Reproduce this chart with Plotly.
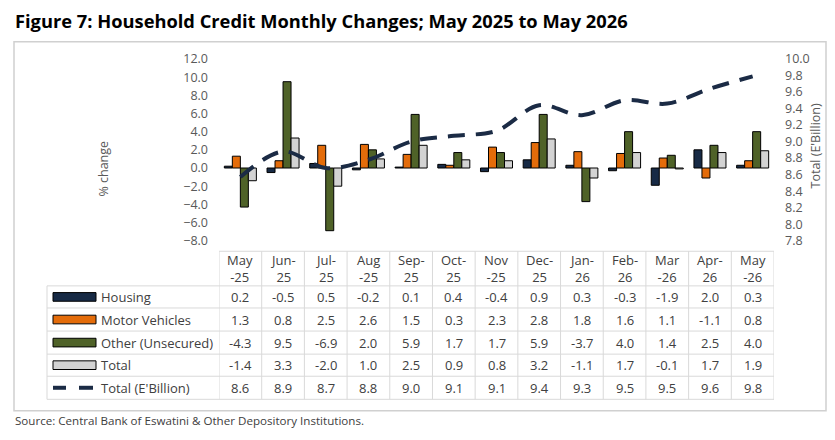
import plotly.graph_objects as go

W, H = 835, 440

categories = ["May-25", "Jun-25", "Jul-25", "Aug-25", "Sep-25", "Oct-25", "Nov-25",
              "Dec-25", "Jan-26", "Feb-26", "Mar-26", "Apr-26", "May-26"]
header_labels = ["May<br>-25", "Jun-<br>25", "Jul-<br>25", "Aug<br>-25", "Sep-<br>25",
                 "Oct-<br>25", "Nov<br>-25", "Dec-<br>25", "Jan-<br>26", "Feb-<br>26",
                 "Mar<br>-26", "Apr-<br>26", "May<br>-26"]

housing = [0.2, -0.5, 0.5, -0.2, 0.1, 0.4, -0.4, 0.9, 0.3, -0.3, -1.9, 2.0, 0.3]
motor = [1.3, 0.8, 2.5, 2.6, 1.5, 0.3, 2.3, 2.8, 1.8, 1.6, 1.1, -1.1, 0.8]
other = [-4.3, 9.5, -6.9, 2.0, 5.9, 1.7, 1.7, 5.9, -3.7, 4.0, 1.4, 2.5, 4.0]
total = [-1.4, 3.3, -2.0, 1.0, 2.5, 0.9, 0.8, 3.2, -1.1, 1.7, -0.1, 1.7, 1.9]
# plotted level (E'Billion); table shows rounded values
total_bn_line = [8.57, 8.88, 8.68, 8.78, 9.00, 9.07, 9.13, 9.44, 9.32, 9.50, 9.46, 9.64, 9.79]
total_bn_table = [8.6, 8.9, 8.7, 8.8, 9.0, 9.1, 9.1, 9.4, 9.3, 9.5, 9.5, 9.6, 9.8]

series_names = ["Housing", "Motor Vehicles", "Other (Unsecured)", "Total"]
series_colors = ["#172a45", "#e46c0a", "#4f6228", "#d3d3d3"]
line_name = "Total (E'Billion)"
line_color = "#1b2b45"

def px(x):
    return x / W

def py(y):
    return 1 - y / H

FONT = "Open Sans"
TXT = "#404040"
GRID = "#d9d9d9"

fig = go.Figure()
for name, vals, col in zip(series_names, [housing, motor, other, total], series_colors):
    fig.add_trace(go.Bar(x=categories, y=vals, name=name,
                         marker=dict(color=col, line=dict(color="#000000", width=1))))
fig.add_trace(go.Scatter(x=categories, y=total_bn_line, name=line_name, yaxis="y2",
                         mode="lines",
                         line=dict(color=line_color, width=4, dash="17px,11px", shape="spline")))

x0p, x1p = 219, 774
ytop, ybot = 52, 241

fig.update_layout(
    width=W, height=H,
    margin=dict(l=0, r=0, t=0, b=0),
    paper_bgcolor="white", plot_bgcolor="white",
    showlegend=False,
    barmode="group", bargap=0.25, bargroupgap=0,
    font=dict(family=FONT, color=TXT, size=12),
    xaxis=dict(type="category", domain=[px(x0p), px(x1p)], range=[-0.5, 12.5],
               showticklabels=False, showgrid=False, zeroline=False, showline=False),
    yaxis=dict(domain=[py(ybot), py(ytop)], range=[-8, 12], dtick=2, tick0=0,
               tickformat=".1f", showgrid=False, zeroline=False, showline=False,
               tickfont=dict(family=FONT, size=12.5, color="#595959"),
               ticklabelstandoff=10),
    yaxis2=dict(overlaying="y", side="right", range=[7.8, 10.0], dtick=0.2, tick0=7.8,
                tickformat=".1f", showgrid=False, zeroline=False, showline=False,
                tickfont=dict(family=FONT, size=12.5, color="#595959"),
                ticklabelstandoff=10),
)

shapes = []
annotations = []

# outer box
shapes.append(dict(type="rect", xref="paper", yref="paper", x0=px(14), x1=px(826),
                   y0=py(34), y1=py(418), line=dict(color="#d0d0d0", width=1.5)))

# title
annotations.append(dict(text="<b>Figure 7: Household Credit Monthly Changes; May 2025 to May 2026</b>",
                        xref="paper", yref="paper", x=px(13), y=py(12), xanchor="left",
                        yanchor="middle", showarrow=False,
                        font=dict(family=FONT, size=18.3, color="#000000")))
# source
annotations.append(dict(text="Source: Central Bank of Eswatini & Other Depository Institutions.",
                        xref="paper", yref="paper", x=px(13), y=py(428), xanchor="left",
                        yanchor="middle", showarrow=False,
                        font=dict(family=FONT, size=11.6, color=TXT)))
# axis titles
annotations.append(dict(text="% change", xref="paper", yref="paper", x=px(104), y=py(166),
                        textangle=-90, showarrow=False, xanchor="center", yanchor="middle",
                        font=dict(family=FONT, size=12.5, color="#595959")))
annotations.append(dict(text="Total (E'Billion)", xref="paper", yref="paper", x=px(815), y=py(143),
                        textangle=-90, showarrow=False, xanchor="center", yanchor="middle",
                        font=dict(family=FONT, size=12.5, color="#595959")))

# data table geometry (pixels)
head_top = 252
row_lines = [288, 311, 335, 359, 382, 406]
leg_left = 47
n = len(categories)

shapes.append(dict(type="line", xref="x", yref="paper", x0=-0.5, x1=n - 0.5,
                   y0=py(head_top), y1=py(head_top), line=dict(color=GRID, width=1)))
for yl in row_lines:
    shapes.append(dict(type="line", xref="paper", yref="paper", x0=px(leg_left), x1=px(x1p),
                       y0=py(yl), y1=py(yl), line=dict(color=GRID, width=1)))
for i in range(n + 1):
    shapes.append(dict(type="line", xref="x", yref="paper", x0=i - 0.5, x1=i - 0.5,
                       y0=py(head_top), y1=py(row_lines[-1]), line=dict(color=GRID, width=1)))
shapes.append(dict(type="line", xref="paper", yref="paper", x0=px(leg_left), x1=px(leg_left),
                   y0=py(row_lines[0]), y1=py(row_lines[-1]), line=dict(color=GRID, width=1)))

for i, lab in enumerate(header_labels):
    annotations.append(dict(text=lab, xref="x", yref="paper", x=i, y=py(270),
                            showarrow=False, xanchor="center", yanchor="middle",
                            font=dict(family=FONT, size=13, color=TXT)))

row_data = [housing, motor, other, total, total_bn_table]
row_names = series_names + [line_name]
for r in range(5):
    yc = (row_lines[r] + row_lines[r + 1]) / 2
    for i, v in enumerate(row_data[r]):
        annotations.append(dict(text=f"{v:.1f}", xref="x", yref="paper", x=i, y=py(yc),
                                showarrow=False, xanchor="center", yanchor="middle",
                                font=dict(family=FONT, size=13, color=TXT)))
    annotations.append(dict(text=row_names[r], xref="paper", yref="paper", x=px(99), y=py(yc),
                            showarrow=False, xanchor="left", yanchor="middle",
                            font=dict(family=FONT, size=13, color=TXT)))
    if r < 4:
        shapes.append(dict(type="rect", xref="paper", yref="paper", x0=px(53), x1=px(96),
                           y0=py(yc - 4.5), y1=py(yc + 4.5), fillcolor=series_colors[r],
                           line=dict(color="#000000", width=1)))
    else:
        for a, b in [(53, 66), (79, 93)]:
            shapes.append(dict(type="line", xref="paper", yref="paper", x0=px(a), x1=px(b),
                               y0=py(yc), y1=py(yc), line=dict(color=line_color, width=4)))

fig.update_layout(shapes=shapes, annotations=annotations)
fig.write_html("out.html")
